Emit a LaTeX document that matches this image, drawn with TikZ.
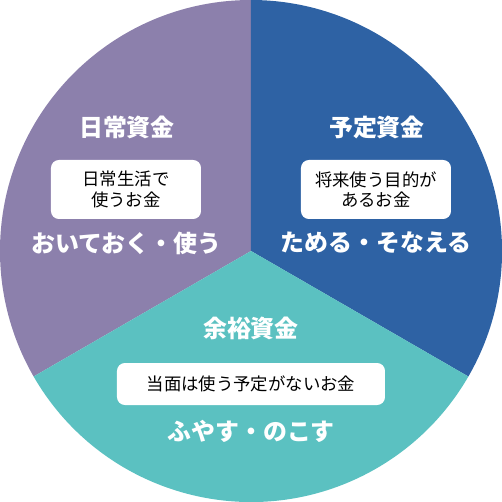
\documentclass[tikz,border=0pt]{standalone}
\usepackage{fontspec}
\setmainfont{Noto Sans CJK JP}
\usepackage{tikz}
\usetikzlibrary{positioning}
\definecolor{nichijo}{HTML}{8C80AC}
\definecolor{yotei}{HTML}{2E62A4}
\definecolor{yoyu}{HTML}{5BC1C1}
\tikzset{
  midashi/.style={text=white,font=\fontsize{13.6}{15}\selectfont\bfseries,inner sep=0pt},
  hako/.style={fill=white,rounded corners=4.5pt,align=center,font=\fontsize{9.9}{11.5}\selectfont,
               inner sep=0pt},
  kotoba/.style={text=white,font=\fontsize{13.6}{15}\selectfont\bfseries,inner sep=0pt},
}

\begin{document}
\begin{tikzpicture}
  \useasboundingbox (-5.02,-5.02) rectangle (5.02,5.02);
  \fill[nichijo] (0,0) -- (90:5.02) arc (90:210:5.02) -- cycle;
  \fill[yotei] (0,0) -- (-30:5.02) arc (-30:90:5.02) -- cycle;
  \fill[yoyu] (0,0) -- (210:5.02) arc (210:330:5.02) -- cycle;
  % 日常資金
  \node[midashi] (N) at (-2.48,2.48) {日常資金};
  \node[hako,minimum width=3cm,minimum height=1.18cm] (Nh) at (-2.5,1.23) {日常生活で\\使うお金};
  \node[kotoba] (Nk) at (-2.5,0.16) {おいておく・使う};
  % 予定資金
  \node[midashi] (Y) at (2.52,2.48) {予定資金};
  \node[hako,minimum width=3cm,minimum height=1.18cm] (Yh) at (2.5,1.23) {将来使う目的が\\あるお金};
  \node[kotoba] (Yk) at (2.5,0.16) {ためる・そなえる};
  % 余裕資金
  \node[midashi] (R) at (0,-1.54) {余裕資金};
  \node[hako,minimum width=5.36cm,minimum height=0.84cm] (Rh) at (0,-2.66) {当面は使う予定がないお金};
  \node[kotoba] (Rk) at (0,-3.6) {ふやす・のこす};
\end{tikzpicture}
\end{document}
